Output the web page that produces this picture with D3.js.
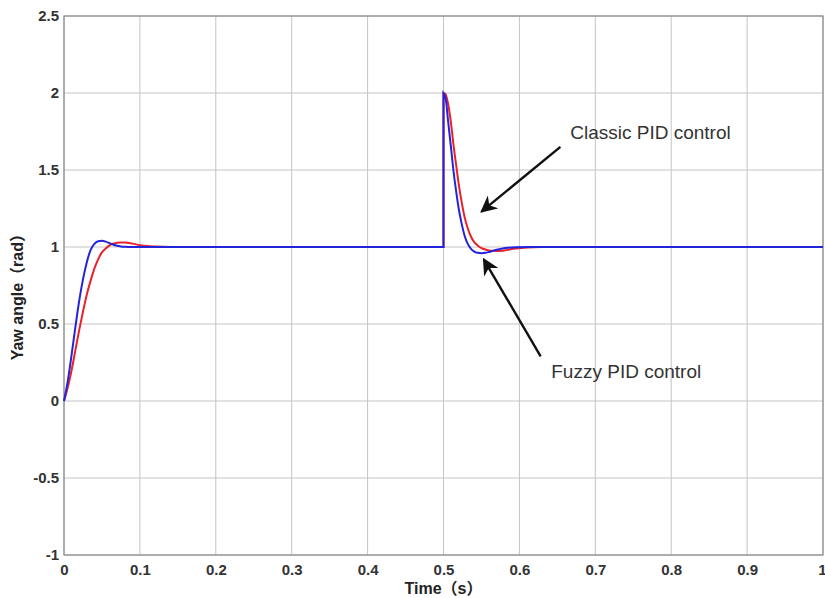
<!DOCTYPE html>
<html>
<head>
<meta charset="utf-8">
<script src="https://cdn.jsdelivr.net/npm/d3@7"></script>
<style>
  body { margin: 0; background: #fff; }
  svg text { font-family: "Liberation Sans", Arial, "Noto Sans CJK SC", sans-serif; }
</style>
</head>
<body>
<div id="chart"></div>
<script>
  //Width and height
  var w = 825;
  var h = 598;
  var margin = { top: 16, right: 2, bottom: 43, left: 64 };

  // time points (s); 0.5 appears twice for the step
  var time = [0, 0.005, 0.01, 0.015, 0.02, 0.025, 0.03, 0.035, 0.04, 0.045, 0.05, 0.055, 0.06, 0.065, 0.07, 0.075,
              0.08, 0.09, 0.1, 0.11, 0.12, 0.14, 0.2, 0.3, 0.4, 0.5,
              0.5, 0.503, 0.506, 0.51, 0.513, 0.517, 0.52, 0.524, 0.528, 0.532, 0.536, 0.54, 0.545, 0.55, 0.555,
              0.56, 0.565, 0.57, 0.578, 0.585, 0.595, 0.61, 0.63, 0.7, 0.8, 0.9, 1.0];

  // Classic PID control (red)
  var classicPID = [0, 0.09, 0.2, 0.33, 0.46, 0.58, 0.69, 0.78, 0.86, 0.92, 0.965, 0.99, 1.01, 1.022, 1.028, 1.03,
                    1.029, 1.022, 1.012, 1.006, 1.003, 1.0, 1.0, 1.0, 1.0, 1.0,
                    2.0, 1.99, 1.93, 1.8, 1.67, 1.52, 1.41, 1.29, 1.19, 1.12, 1.07, 1.035, 1.01, 0.993, 0.984,
                    0.978, 0.975, 0.974, 0.976, 0.982, 0.99, 0.997, 1.0, 1.0, 1.0, 1.0, 1.0];

  // Fuzzy PID control (blue)
  var fuzzyPID = [0, 0.13, 0.3, 0.48, 0.65, 0.79, 0.9, 0.98, 1.02, 1.037, 1.04, 1.035, 1.025, 1.015, 1.008, 1.004,
                  1.002, 1.0, 1.0, 1.0, 1.0, 1.0, 1.0, 1.0, 1.0, 1.0,
                  2.0, 1.96, 1.82, 1.64, 1.5, 1.35, 1.25, 1.15, 1.07, 1.02, 0.99, 0.972, 0.962, 0.96, 0.962,
                  0.968, 0.975, 0.982, 0.99, 0.995, 0.999, 1.0, 1.0, 1.0, 1.0, 1.0, 1.0];

  var xTicks = [0, 0.1, 0.2, 0.3, 0.4, 0.5, 0.6, 0.7, 0.8, 0.9, 1];
  var yTicks = [-1, -0.5, 0, 0.5, 1, 1.5, 2, 2.5];

  var svg = d3.select("#chart")
    .append("svg")
    .attr("width", w)
    .attr("height", h);

  var xScale = d3.scaleLinear()
    .domain([0, 1])
    .range([margin.left, w - margin.right]);

  var yScale = d3.scaleLinear()
    .domain([-1, 2.5])
    .range([h - margin.bottom, margin.top]);

  // grid
  svg.append("g")
    .selectAll("line.vgrid")
    .data(xTicks)
    .enter().append("line")
    .attr("x1", function(d) { return xScale(d); })
    .attr("x2", function(d) { return xScale(d); })
    .attr("y1", yScale(-1))
    .attr("y2", yScale(2.5))
    .style("stroke", "#c4c4c4")
    .style("stroke-width", 1);

  svg.append("g")
    .selectAll("line.hgrid")
    .data(yTicks)
    .enter().append("line")
    .attr("x1", xScale(0))
    .attr("x2", xScale(1))
    .attr("y1", function(d) { return yScale(d); })
    .attr("y2", function(d) { return yScale(d); })
    .style("stroke", "#c4c4c4")
    .style("stroke-width", 1);

  // axes
  var xAxis = d3.axisBottom(xScale).tickValues(xTicks).tickSize(0).tickPadding(9)
    .tickFormat(function(d) { return String(d); });
  var yAxis = d3.axisLeft(yScale).tickValues(yTicks).tickSize(0).tickPadding(5)
    .tickFormat(function(d) { return String(d); });

  var gx = svg.append("g")
    .attr("transform", "translate(0," + yScale(-1) + ")")
    .call(xAxis);
  var gy = svg.append("g")
    .attr("transform", "translate(" + xScale(0) + ",0)")
    .call(yAxis);

  [gx, gy].forEach(function(g) {
    g.select(".domain").remove();
    g.selectAll("text")
      .style("font-size", "15px")
      .style("font-weight", "bold")
      .style("fill", "#333");
  });
  // last x label sits at the right edge; keep it inside the page
  gx.selectAll("text").filter(function(d) { return d === 1; })
    .style("text-anchor", "end")
    .attr("dx", 3);

  // box
  svg.append("rect")
    .attr("x", xScale(0))
    .attr("y", yScale(2.5))
    .attr("width", xScale(1) - xScale(0))
    .attr("height", yScale(-1) - yScale(2.5))
    .style("fill", "none")
    .style("stroke", "#8a8a8a")
    .style("stroke-width", 1.2);

  // lines: split at the step so the jump stays vertical
  var line = d3.line()
    .x(function(d) { return xScale(d[0]); })
    .y(function(d) { return yScale(d[1]); })
    .curve(d3.curveMonotoneX);

  function stepPath(values) {
    var pts = time.map(function(t, i) { return [t, values[i]]; });
    var cut = time.indexOf(0.5) + 1;
    var a = line(pts.slice(0, cut));
    var b = line(pts.slice(cut));
    return a + b.replace(/^M/, "L");
  }

  svg.append("path")
    .attr("d", stepPath(classicPID))
    .style("fill", "none")
    .style("stroke", "#e8222a")
    .style("stroke-width", 2);

  svg.append("path")
    .attr("d", stepPath(fuzzyPID))
    .style("fill", "none")
    .style("stroke", "#2323dc")
    .style("stroke-width", 2);

  // annotations
  svg.append("defs").append("marker")
    .attr("id", "arrow")
    .attr("viewBox", "0 0 10 10")
    .attr("refX", 9)
    .attr("refY", 5)
    .attr("markerWidth", 7)
    .attr("markerHeight", 7)
    .attr("orient", "auto")
    .append("path")
    .attr("d", "M0,0 L10,5 L0,10 L3,5 Z")
    .style("fill", "#111");

  svg.append("line")
    .attr("x1", xScale(0.654)).attr("y1", yScale(1.65))
    .attr("x2", xScale(0.55)).attr("y2", yScale(1.23))
    .style("stroke", "#111")
    .style("stroke-width", 2.4)
    .attr("marker-end", "url(#arrow)");

  svg.append("line")
    .attr("x1", xScale(0.628)).attr("y1", yScale(0.29))
    .attr("x2", xScale(0.553)).attr("y2", yScale(0.92))
    .style("stroke", "#111")
    .style("stroke-width", 2.4)
    .attr("marker-end", "url(#arrow)");

  svg.append("text")
    .attr("x", xScale(0.667))
    .attr("y", yScale(1.7))
    .style("font-size", "19px")
    .style("fill", "#333")
    .text("Classic PID control");

  svg.append("text")
    .attr("x", xScale(0.642))
    .attr("y", yScale(0.15))
    .style("font-size", "19px")
    .style("fill", "#333")
    .text("Fuzzy PID control");

  // axis titles
  svg.append("text")
    .attr("x", xScale(0.5))
    .attr("y", h - 4)
    .style("text-anchor", "middle")
    .style("font-size", "16px")
    .style("font-weight", "bold")
    .style("fill", "#222")
    .text("Time（s）");

  svg.append("text")
    .attr("transform", "translate(23," + yScale(0.7) + ") rotate(-90)")
    .style("text-anchor", "middle")
    .style("font-size", "16px")
    .style("font-weight", "bold")
    .style("fill", "#222")
    .text("Yaw angle（rad）");
</script>
</body>
</html>
